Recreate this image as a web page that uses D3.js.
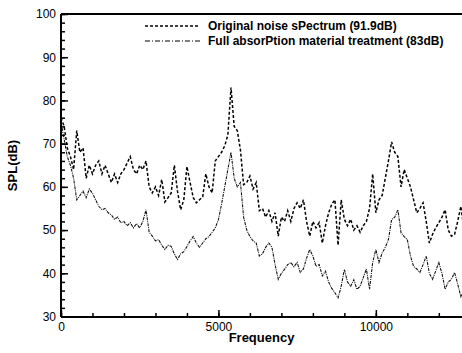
<!doctype html>
<html lang="en">
<head>
    <meta charset="utf-8">
    <title>SPL spectrum</title>
    <script src="https://cdn.jsdelivr.net/npm/d3@7"></script>
    <style>
        body { margin: 0; background: #fff; }
        svg { display: block; font-family: "Liberation Sans", Arial, sans-serif; }
    </style>
</head>
<body>
    <svg></svg>
    <script>
        var width = 462;
        var height = 353;
        var margin = { top: 14, right: -2, bottom: 36, left: 61 };

        // frequency step of the read-off values (Hz)
        var freqStep = 100;

        // Original noise spectrum, one value every 100 Hz from 0 Hz
        var originalSpl = [
            76, 74, 69, 67, 64, 73, 68, 69, 62, 65,
            63, 65, 66, 63, 65, 63, 61, 63, 61, 63,
            64, 65.5, 67, 64, 63, 65, 64, 66, 60, 58.6,
            60, 58, 61.7, 56.5, 57.5, 58.6, 65, 59, 54.7, 57,
            64.7, 61, 57.5, 56.3, 57, 57.7, 63, 60, 58.6, 66,
            67, 68, 69.5, 72, 83, 74, 73, 68.5, 60.5, 61,
            62.5, 59.5, 61, 54.5, 55, 53, 54.5, 52, 54, 48.6,
            53, 52, 54.5, 52, 55, 56.3, 55, 57, 52, 48.6,
            52, 50.5, 51.7, 47, 51, 54, 56, 57, 46.5, 57,
            52.5, 51, 52.5, 50, 51, 49.5, 51, 52, 55, 63,
            54, 57, 58, 62, 66, 70.4, 68, 67, 60, 64,
            62, 60, 57, 54, 55, 56.3, 52, 47, 49, 50.5,
            51.7, 53, 54.7, 50, 48.6, 49, 52, 55.5, 50
        ];

        // Full absorption material treatment, same frequencies
        var treatedSpl = [
            75, 71, 67, 65, 62, 57, 58, 59, 57.5, 59.5,
            58.5, 57, 55.5, 54.7, 55, 54, 53.5, 52.5, 53, 51.7,
            52, 51, 51.7, 50.5, 51.5, 50.5, 52, 54.7, 49.5, 48.6,
            47.5, 47.8, 46.5, 45.5, 46.5, 46.2, 44.5, 43.2, 44.5, 45,
            46.2, 47.5, 48.5, 47, 46, 47, 48, 48.5, 49.5, 50.5,
            52.4, 56, 60, 64, 68, 62, 60, 61, 53, 50,
            48.5, 47.5, 47, 44, 44.5, 46, 47, 46, 42, 38.6,
            40, 40.9, 42, 42.5, 41.5, 42.5, 40.2, 41, 43.5, 45.5,
            44, 41.6, 42, 39.4, 40.5, 38, 36.5, 35.5, 34.3, 37,
            40.9, 38, 37, 38.5, 36.3, 37, 39, 41, 36.3, 42.5,
            45.5, 42.5, 44.7, 46, 47.8, 52.4, 53, 54.7, 49.4, 48.5,
            47.8, 44, 41.6, 41, 40.2, 42, 44, 40, 38.6, 40.5,
            42.5, 40, 36.3, 38, 38.6, 40.2, 37.5, 34.6, 36
        ];

        var seriesNames = [
            "Original noise sPectrum (91.9dB)",
            "Full absorPtion material treatment (83dB)"
        ];
        var xMajorTicks = [0, 5000, 10000];
        var yMajorTicks = [30, 40, 50, 60, 70, 80, 90, 100];

        var svg = d3.select('svg').attr('width', width).attr('height', height);

        var xScale = d3.scaleLinear()
            .domain([0, 12800])
            .range([margin.left, width - margin.right]);

        var yScale = d3.scaleLinear()
            .domain([30, 100])
            .range([height - margin.bottom - 0.5, margin.top]);

        var line = d3.line()
            .x(function (d, i) { return xScale(i * freqStep); })
            .y(function (d) { return yScale(d); });

        var plot = svg.append('g');

        // treated spectrum (thin dash-dot)
        plot.append('path')
            .datum(treatedSpl)
            .attr('d', line)
            .attr('fill', 'none')
            .attr('stroke', '#111')
            .attr('stroke-width', 1.1)
            .attr('stroke-dasharray', '3,1,1,1');

        // original spectrum (short dashes)
        plot.append('path')
            .datum(originalSpl)
            .attr('d', line)
            .attr('fill', 'none')
            .attr('stroke', '#000')
            .attr('stroke-width', 1.5)
            .attr('stroke-dasharray', '3,2');

        // axes: ticks pointing into the plot
        var xAxis = d3.axisTop(xScale)
            .tickValues(d3.range(0, 13000, 1000))
            .tickSize(4)
            .tickFormat('');
        var xAxisMajor = d3.axisTop(xScale)
            .tickValues(xMajorTicks)
            .tickSize(7)
            .tickFormat(d3.format('d'));

        var yAxis = d3.axisRight(yScale)
            .tickValues(d3.range(30, 101, 2))
            .tickSize(4)
            .tickFormat('');
        var yAxisMajor = d3.axisRight(yScale)
            .tickValues(yMajorTicks)
            .tickSize(7)
            .tickFormat(d3.format('d'));

        var bottom = height - margin.bottom;

        svg.append('g')
            .attr('transform', 'translate(0,' + bottom + ')')
            .call(xAxis);
        var gx = svg.append('g')
            .attr('transform', 'translate(0,' + bottom + ')')
            .call(xAxisMajor);
        gx.selectAll('text')
            .attr('y', 5)
            .attr('dy', '0.71em')
            .style('font-size', '12px');

        svg.append('g')
            .attr('transform', 'translate(' + margin.left + ',0)')
            .call(yAxis);
        var gy = svg.append('g')
            .attr('transform', 'translate(' + margin.left + ',0)')
            .call(yAxisMajor);
        gy.selectAll('text')
            .attr('x', -5)
            .attr('text-anchor', 'end')
            .style('font-size', '12px');

        svg.selectAll('.domain').remove();
        svg.selectAll('.tick line').attr('stroke', '#000').attr('stroke-width', 1.5);
        svg.selectAll('.tick text').attr('fill', '#000');

        // frame
        svg.append('line')
            .attr('x1', margin.left).attr('x2', width)
            .attr('y1', bottom).attr('y2', bottom)
            .attr('stroke', '#000').attr('stroke-width', 2);
        svg.append('line')
            .attr('x1', margin.left).attr('x2', margin.left)
            .attr('y1', margin.top).attr('y2', bottom)
            .attr('stroke', '#000').attr('stroke-width', 2);
        svg.append('line')
            .attr('x1', margin.left).attr('x2', width)
            .attr('y1', margin.top).attr('y2', margin.top)
            .attr('stroke', '#000').attr('stroke-width', 2);

        // axis titles
        svg.append('text')
            .attr('x', (margin.left + width) / 2)
            .attr('y', 342)
            .attr('text-anchor', 'middle')
            .style('font-size', '13px')
            .style('font-weight', 'bold')
            .text('Frequency');

        svg.append('text')
            .attr('transform', 'translate(17,' + (margin.top + bottom) / 2 + ') rotate(-90)')
            .attr('text-anchor', 'middle')
            .style('font-size', '13px')
            .style('font-weight', 'bold')
            .text('SPL(dB)');

        // legend
        var legendStyles = [
            { dash: '3,2', width: 1.4 },
            { dash: '5,2,1,2', width: 1 }
        ];
        var legend = svg.append('g');
        seriesNames.forEach(function (name, i) {
            var y = 26 + i * 15;
            legend.append('line')
                .attr('x1', 145).attr('x2', 200)
                .attr('y1', y).attr('y2', y)
                .attr('stroke', '#000')
                .attr('stroke-width', legendStyles[i].width)
                .attr('stroke-dasharray', legendStyles[i].dash);
            legend.append('text')
                .attr('x', 208)
                .attr('y', y)
                .attr('dy', '0.35em')
                .style('font-size', '12px')
                .style('font-weight', 'bold')
                .text(name);
        });
    </script>
</body>
</html>
